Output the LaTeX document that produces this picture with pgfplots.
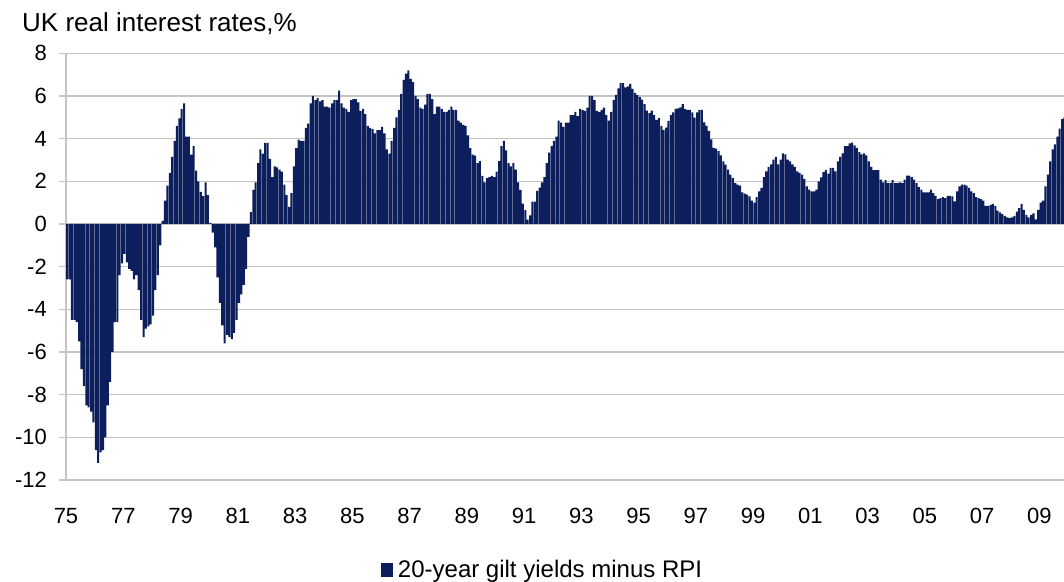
\documentclass[border=0pt]{standalone}
\usepackage{pgfplots}
\usepackage{pgfplotstable}
\pgfplotsset{compat=1.18}
\usepackage{fontspec}
\setmainfont{Liberation Sans}
\definecolor{barblue}{RGB}{12,30,92}
\definecolor{gridgray}{RGB}{196,196,196}
% monthly values, Jan 1975 onward
\pgfplotstableread[row sep=\\]{
v\\
-2.6\\ -2.6\\ -4.5\\ -4.5\\ -4.6\\ -5.5\\ -6.8\\ -7.6\\ -8.5\\ -8.6\\
-8.8\\ -9.3\\ -10.6\\ -11.2\\ -10.7\\ -10.6\\ -10.0\\ -8.5\\ -7.4\\ -6.0\\
-4.6\\ -4.6\\ -2.4\\ -1.85\\ -1.4\\ -1.8\\ -2.1\\ -2.2\\ -2.6\\ -2.4\\
-3.1\\ -4.5\\ -5.3\\ -4.9\\ -4.8\\ -4.7\\ -4.3\\ -3.1\\ -2.4\\ -1.0\\
0.15\\ 1.1\\ 1.8\\ 2.4\\ 3.15\\ 3.9\\ 4.6\\ 4.95\\ 5.4\\ 5.65\\
4.1\\ 4.1\\ 3.25\\ 3.65\\ 2.5\\ 2.0\\ 1.5\\ 1.3\\ 1.95\\ 1.35\\
0.05\\ -0.4\\ -1.1\\ -2.5\\ -3.7\\ -4.75\\ -5.6\\ -5.2\\ -5.3\\ -5.4\\
-5.1\\ -4.5\\ -3.7\\ -3.3\\ -2.85\\ -2.1\\ -0.6\\ 0.55\\ 1.6\\ 1.95\\
2.85\\ 3.5\\ 3.3\\ 3.8\\ 3.8\\ 3.05\\ 2.2\\ 2.7\\ 2.65\\ 2.55\\
2.45\\ 1.85\\ 1.35\\ 0.8\\ 1.45\\ 2.7\\ 3.55\\ 3.95\\ 3.9\\ 3.9\\
4.5\\ 4.7\\ 5.65\\ 6.0\\ 5.8\\ 5.9\\ 5.75\\ 5.8\\ 5.5\\ 5.5\\
5.45\\ 5.65\\ 5.8\\ 5.8\\ 6.25\\ 5.65\\ 5.45\\ 5.4\\ 5.25\\ 5.8\\
5.85\\ 5.85\\ 5.7\\ 5.3\\ 5.4\\ 5.15\\ 4.6\\ 4.5\\ 4.45\\ 4.25\\
4.4\\ 4.4\\ 4.55\\ 4.25\\ 3.5\\ 3.3\\ 3.9\\ 4.5\\ 5.0\\ 5.35\\
6.1\\ 6.75\\ 7.05\\ 7.2\\ 6.8\\ 6.65\\ 6.0\\ 5.85\\ 5.45\\ 5.4\\
5.6\\ 6.1\\ 6.1\\ 5.85\\ 5.15\\ 5.5\\ 5.5\\ 5.4\\ 5.25\\ 5.25\\
5.35\\ 5.5\\ 5.35\\ 5.35\\ 4.85\\ 4.75\\ 4.65\\ 4.6\\ 4.15\\ 3.55\\
3.25\\ 3.2\\ 2.85\\ 2.95\\ 2.25\\ 1.95\\ 2.15\\ 2.2\\ 2.25\\ 2.2\\
2.45\\ 2.95\\ 3.65\\ 3.9\\ 3.45\\ 2.85\\ 2.7\\ 2.85\\ 2.55\\ 1.95\\
1.6\\ 0.95\\ 0.65\\ 0.2\\ 0.4\\ 1.05\\ 1.05\\ 1.55\\ 1.7\\ 1.95\\
2.2\\ 2.85\\ 3.35\\ 3.65\\ 3.9\\ 4.1\\ 4.85\\ 4.75\\ 4.55\\ 4.75\\
4.75\\ 5.1\\ 5.1\\ 5.25\\ 5.05\\ 5.4\\ 5.35\\ 5.3\\ 5.45\\ 6.0\\
6.0\\ 5.8\\ 5.3\\ 5.25\\ 5.35\\ 5.45\\ 5.1\\ 4.85\\ 5.25\\ 5.8\\
6.05\\ 6.35\\ 6.6\\ 6.6\\ 6.4\\ 6.45\\ 6.57\\ 6.33\\ 6.14\\ 6.05\\
5.94\\ 5.83\\ 5.62\\ 5.31\\ 5.2\\ 5.31\\ 5.1\\ 4.88\\ 4.96\\ 4.6\\
4.41\\ 4.52\\ 4.83\\ 5.1\\ 5.23\\ 5.39\\ 5.42\\ 5.46\\ 5.62\\ 5.39\\
5.35\\ 5.35\\ 5.23\\ 4.99\\ 5.23\\ 5.35\\ 5.35\\ 4.76\\ 4.6\\ 4.36\\
3.97\\ 3.57\\ 3.53\\ 3.42\\ 3.21\\ 2.94\\ 2.78\\ 2.55\\ 2.31\\ 2.16\\
1.92\\ 1.84\\ 1.8\\ 1.48\\ 1.42\\ 1.37\\ 1.29\\ 1.1\\ 1.0\\ 1.26\\
1.53\\ 1.69\\ 2.2\\ 2.47\\ 2.68\\ 2.79\\ 3.02\\ 3.15\\ 2.79\\ 3.02\\
3.31\\ 3.26\\ 3.02\\ 2.94\\ 2.79\\ 2.68\\ 2.47\\ 2.39\\ 2.31\\ 2.11\\
1.76\\ 1.61\\ 1.53\\ 1.53\\ 1.61\\ 2.0\\ 2.19\\ 2.43\\ 2.52\\ 2.36\\
2.63\\ 2.63\\ 2.47\\ 2.94\\ 3.15\\ 3.31\\ 3.65\\ 3.65\\ 3.78\\ 3.81\\
3.69\\ 3.57\\ 3.37\\ 3.26\\ 3.31\\ 3.21\\ 2.94\\ 2.68\\ 2.52\\ 2.52\\
2.52\\ 2.08\\ 1.95\\ 2.05\\ 1.92\\ 1.92\\ 2.05\\ 1.92\\ 1.92\\ 1.95\\
1.92\\ 2.08\\ 2.27\\ 2.27\\ 2.2\\ 2.08\\ 1.92\\ 1.73\\ 1.61\\ 1.48\\
1.48\\ 1.48\\ 1.61\\ 1.45\\ 1.32\\ 1.17\\ 1.21\\ 1.26\\ 1.21\\ 1.32\\
1.32\\ 1.29\\ 1.06\\ 1.53\\ 1.76\\ 1.84\\ 1.84\\ 1.8\\ 1.69\\ 1.53\\
1.45\\ 1.26\\ 1.21\\ 1.17\\ 1.1\\ 0.85\\ 0.85\\ 0.9\\ 0.94\\ 0.85\\
0.63\\ 0.54\\ 0.46\\ 0.38\\ 0.31\\ 0.27\\ 0.31\\ 0.38\\ 0.58\\ 0.74\\
0.94\\ 0.66\\ 0.43\\ 0.31\\ 0.43\\ 0.5\\ 0.22\\ 0.66\\ 1.0\\ 1.1\\
1.76\\ 2.31\\ 2.94\\ 3.5\\ 3.73\\ 4.09\\ 4.47\\ 4.91\\ 5.0\\
}\rates
\begin{document}
\begin{tikzpicture}
\useasboundingbox (0,0) rectangle (1064pt,581pt);
\begin{axis}[
  at={(66pt,101pt)}, anchor=south west,
  scale only axis, width=998pt, height=426.7pt,
  xmin=0, xmax=418.3, ymin=-12, ymax=8,
  axis x line*=bottom, axis y line*=left,
  axis line style={draw=gridgray, line width=1.4pt, -},
  ytick={-12,-10,-8,-6,-4,-2,0,2,4,6,8},
  yticklabels={-12,-10,-8,-6,-4,-2,0,2,4,6,8},
  xtick={0,24,48,72,96,120,144,168,192,216,240,264,288,312,336,360,384,408},
  xticklabels={75,77,79,81,83,85,87,89,91,93,95,97,99,01,03,05,07,09},
  ymajorgrids,
  grid style={draw=gridgray, line width=1.4pt},
  tick align=outside,
  major tick length=7pt,
  ytick style={draw=gridgray, line width=1.4pt},
  xtick style={draw=none},
  yticklabel style={font=\fontsize{22}{22}\selectfont, anchor=east, inner sep=0pt, xshift=-12pt},
  xticklabel style={font=\fontsize{22}{22}\selectfont, anchor=north, inner sep=0pt, yshift=-21pt},
  title={UK real interest rates,\%},
  title style={at={(-0.0441,1.037)}, anchor=base west, inner sep=0pt, font=\fontsize{26}{26}\selectfont},
  legend style={at={(0.4775,-0.211)}, anchor=center, draw=none, fill=none, inner sep=0pt,
    font=\fontsize{24}{24}\selectfont},
  legend image code/.code={\fill[barblue] (0pt,-7pt) rectangle (12pt,7pt);},
  legend cell align=left,
  clip=true,
]
\addplot[ybar, bar width=0.86, fill=barblue, draw=none]
  table[x expr=\coordindex+0.5, y=v] {\rates};
\addlegendentry{\hspace{3pt}20-year gilt yields minus RPI}
\end{axis}
\end{tikzpicture}
\end{document}
